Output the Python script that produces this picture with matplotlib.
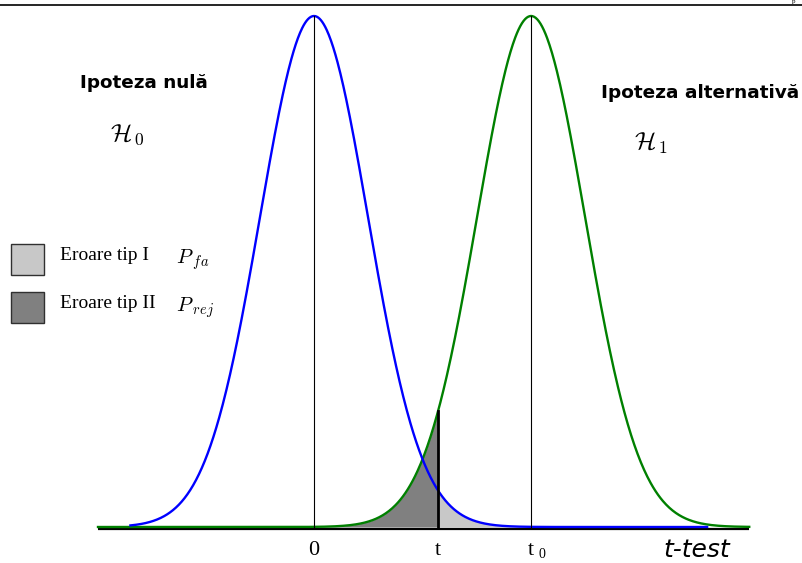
import numpy as np
import matplotlib
matplotlib.use('Agg')
import matplotlib.pyplot as plt
from matplotlib.patches import Rectangle

plt.rcParams['mathtext.fontset'] = 'cm'

# distribution parameters (t units)
mu0 = 0.0          # null hypothesis mean
mu1 = 4.02         # alternative hypothesis mean
sigma = 1.0
t_thr = 2.30       # decision threshold
h0_range = [-3.40, 7.28]
h1_range = [-4.00, 8.06]
tick_pos = [mu0, t_thr, mu1]
tick_txt = ['0', 't', 't']
tick_sub = ['', '', '0']


def bell(x, mu):
    return np.exp(-0.5 * ((x - mu) / sigma) ** 2)


W, H = 803, 563
px = 54.0  # pixels per sigma
fig = plt.figure(figsize=(W / 100, H / 100), dpi=100)
ax = fig.add_axes([0, 0, 1, 1])
ax.set_xlim(-314 / px, (W - 314) / px)
ax.set_ylim((527 - H) / 511, 527 / 511)
ax.axis('off')

x0 = np.linspace(h0_range[0], h0_range[1], 800)
x1 = np.linspace(h1_range[0], h1_range[1], 800)

# shaded error areas
xl = np.linspace(h1_range[0], t_thr, 400)
ax.fill_between(xl, 0, bell(xl, mu1), color='#808080', lw=0, zorder=1)
xr = np.linspace(t_thr, h0_range[1], 400)
ax.fill_between(xr, 0, bell(xr, mu0), color='#c8c8c8', lw=0, zorder=1)

# baseline
ax.plot(h1_range, [-1.5 / 511] * 2, color='black', lw=1.6, zorder=2,
        solid_capstyle='butt')

ax.plot(x1, bell(x1, mu1), color='#008000', lw=1.7, zorder=3)
ax.plot(x0, bell(x0, mu0), color='#0000ff', lw=1.7, zorder=4)

# centre lines and threshold
ax.plot([mu0, mu0], [0, 1], color='black', lw=0.8, zorder=5)
ax.plot([mu1, mu1], [0, 1], color='black', lw=0.8, zorder=5)
ax.plot([t_thr, t_thr], [0, bell(t_thr, mu1)], color='black', lw=2.0, zorder=5)

# axis labels under the baseline
for pos, txt, sub in zip(tick_pos, tick_txt, tick_sub):
    ax.text(pos, -0.028, txt, ha='center', va='top', fontsize=16,
            family='Liberation Serif')
    if sub:
        ax.text(pos + 11 / px, (527 - 561.5) / 511, sub, ha='center',
                va='bottom', fontsize=10, family='Liberation Serif')
ax.text((697 - 314) / px, -0.022, 't-test', ha='center', va='top',
        fontsize=18, style='italic', family='DejaVu Sans')


def ftext(x, y, s, **kw):
    fig.text(x / W, 1 - y / H, s, **kw)


# hypothesis labels
ftext(80, 83, 'Ipoteza nulă', fontsize=13.2, weight='bold', va='center')
ftext(110, 135, r'$\mathcal{H}_{\,0}$', fontsize=18, va='center')
ftext(601, 93, 'Ipoteza alternativă', fontsize=13.3, weight='bold', va='center')
ftext(634, 143, r'$\mathcal{H}_{\,1}$', fontsize=18, va='center')

# legend
for yb, col, lab, sym in [(244, '#c8c8c8', 'Eroare tip I', r'$P_{\;fa}$'),
                          (292, '#808080', 'Eroare tip II', r'$P_{\;rej}$')]:
    fig.patches.append(Rectangle((11 / W, 1 - (yb + 31) / H), 33 / W, 31 / H,
                                 transform=fig.transFigure, facecolor=col,
                                 edgecolor='#303030', lw=1))
    ftext(60, yb + 12, lab, fontsize=14, family='Liberation Serif',
          va='center')
    ftext(176, yb + 16, sym, fontsize=15, va='center')

# page header rule
fig.add_artist(plt.Line2D([0, 1], [1 - 5 / H] * 2, color='black', lw=1.2,
                          transform=fig.transFigure))
ftext(792, 4.5, 'p', fontsize=5, family='Liberation Serif', va='bottom')

fig.savefig('out.png', dpi=100)
